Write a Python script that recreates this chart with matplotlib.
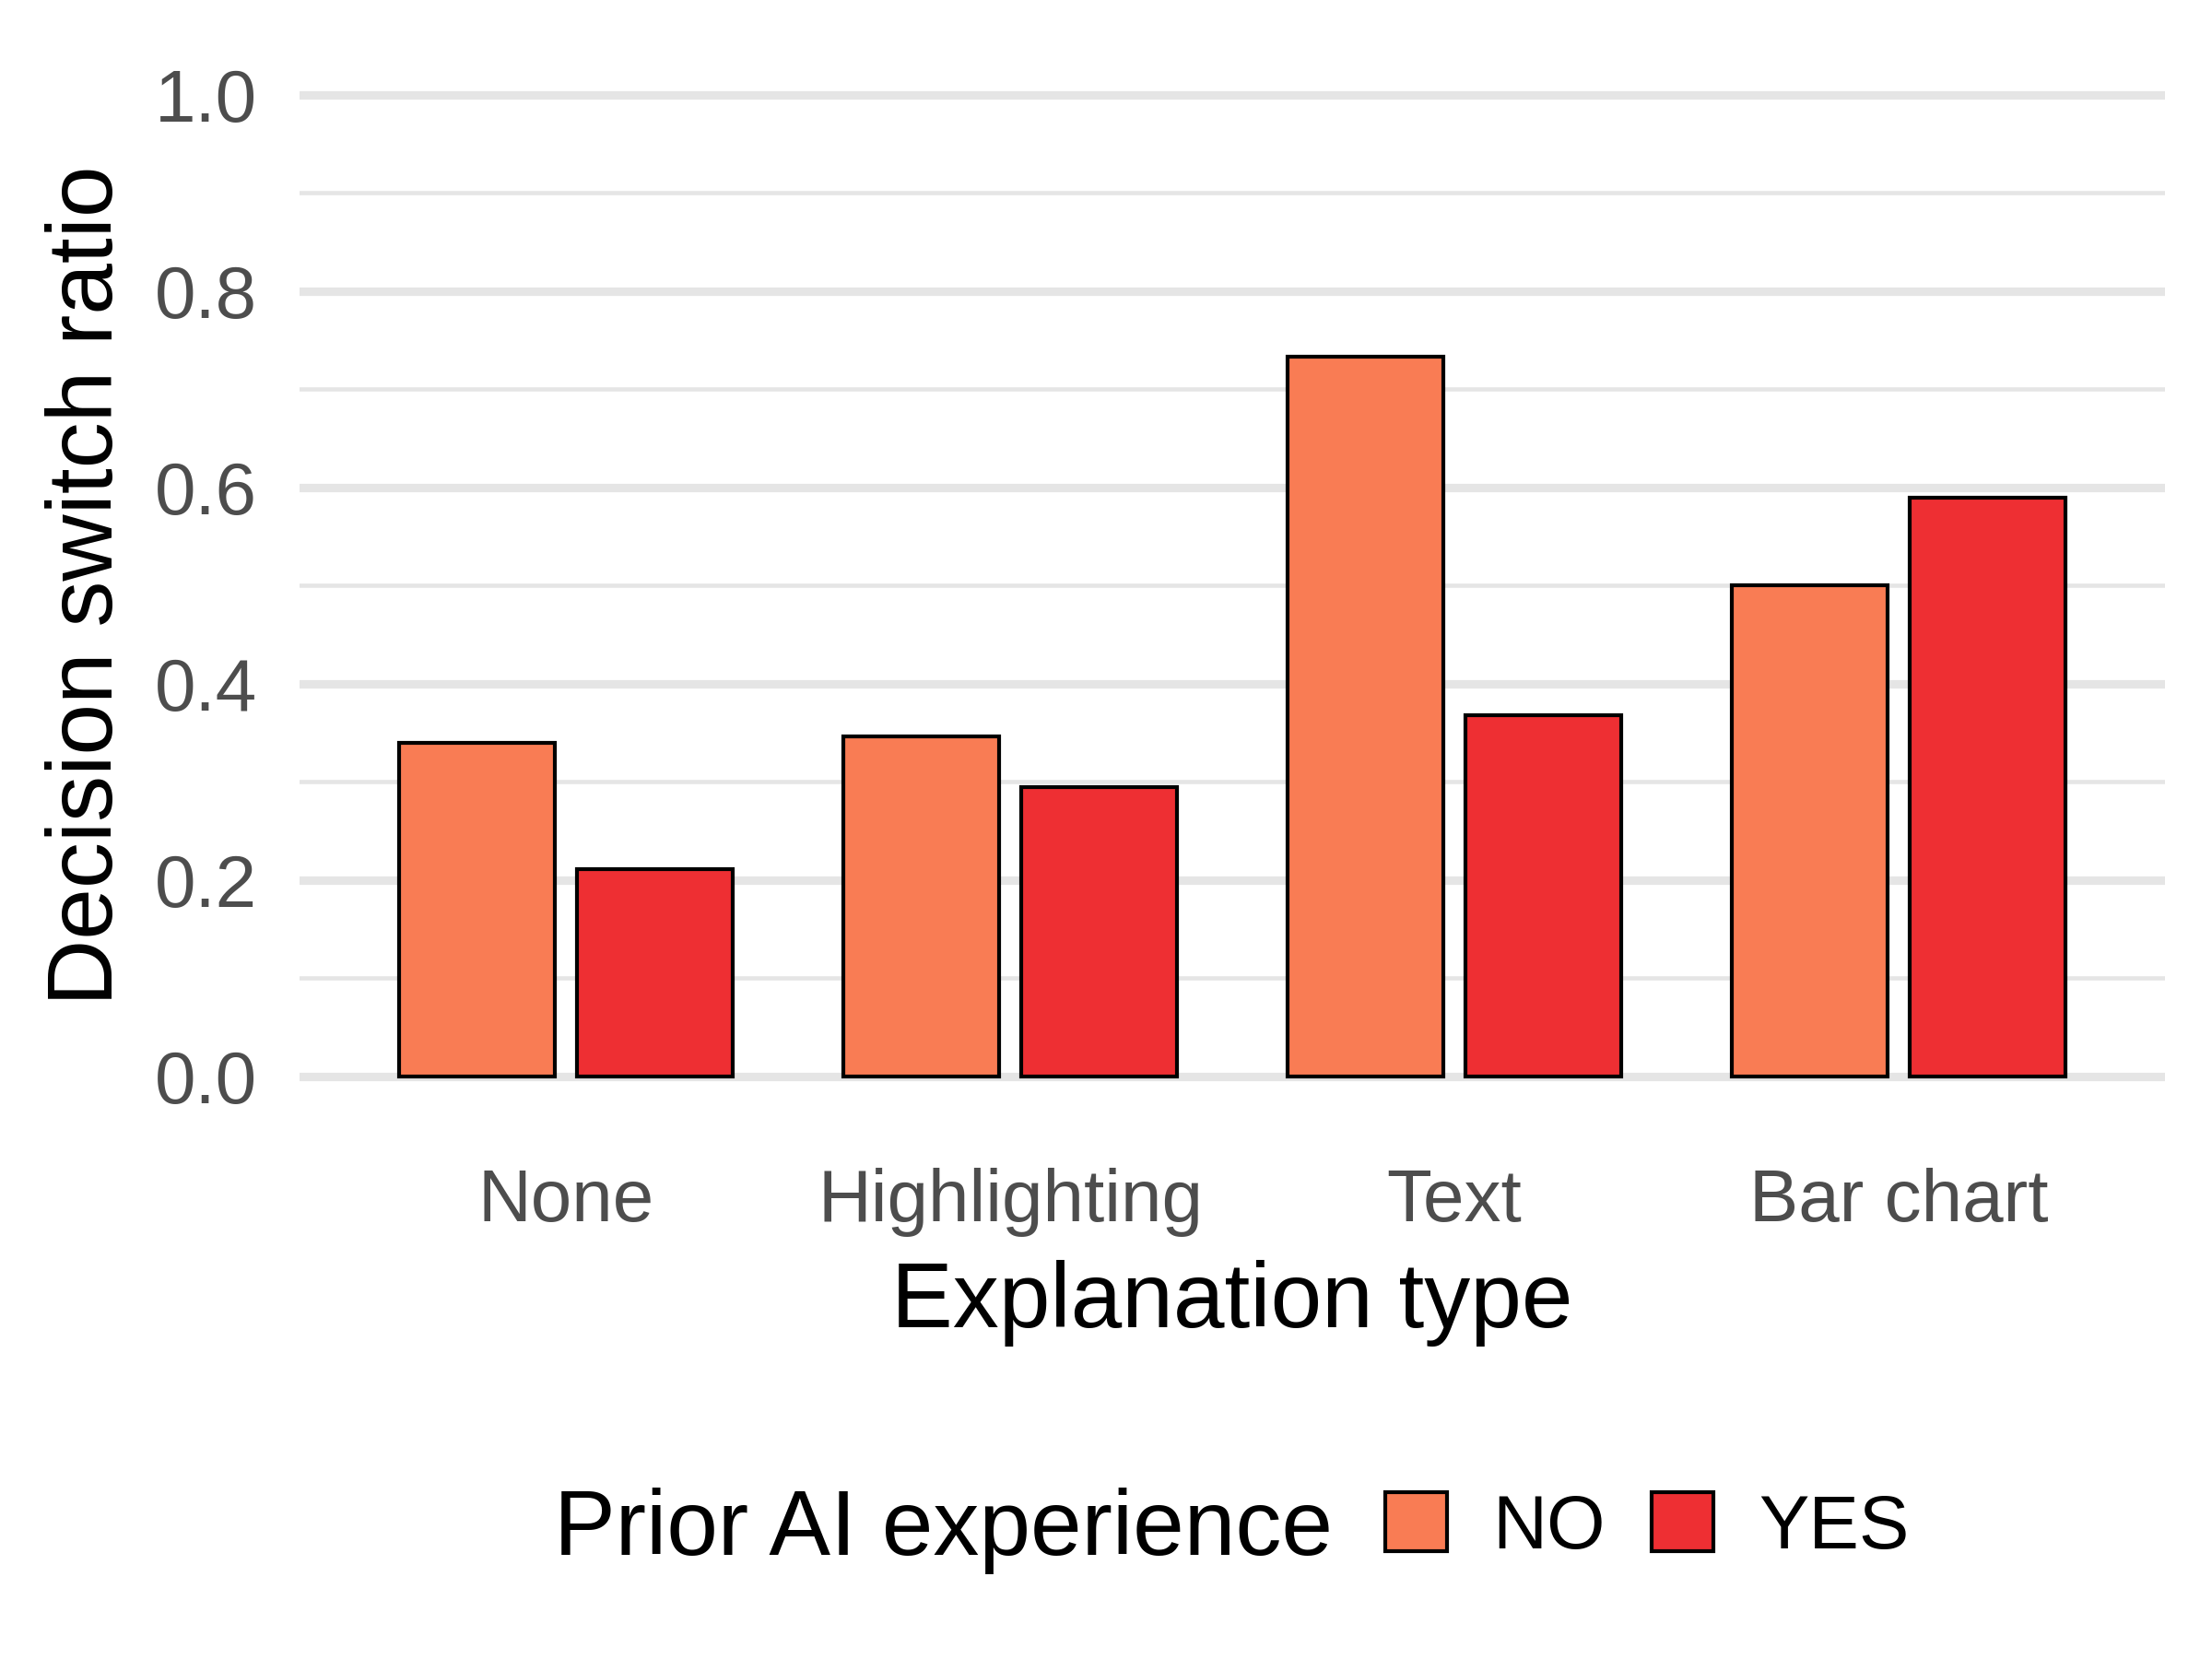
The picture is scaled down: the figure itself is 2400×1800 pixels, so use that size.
import matplotlib
matplotlib.use("Agg")
import matplotlib.pyplot as plt
import numpy as np
from matplotlib.patches import Patch

categories = ["None", "Highlighting", "Text", "Bar chart"]
groups = ["NO", "YES"]
values_no = [0.340, 0.346, 0.733, 0.500]
values_yes = [0.211, 0.295, 0.368, 0.589]
colors = {"NO": "#F97C54", "YES": "#EE2F33"}
y_ticks = [0.0, 0.2, 0.4, 0.6, 0.8, 1.0]
y_minor = [0.1, 0.3, 0.5, 0.7, 0.9]

plt.rcParams['font.family'] = ['Liberation Sans', 'DejaVu Sans']

fig = plt.figure(figsize=(8, 6), dpi=300)
W, H = 2400, 1800
left, right = 325 / W, 2349 / W
bottom, top = 1 - 1221 / H, 1 - 49.5 / H
ax = fig.add_axes([left, bottom, right - left, top - bottom])

x = np.arange(1, len(categories) + 1)
width = 0.35
off = 0.2
ax.bar(x - off, values_no, width, color=colors["NO"], edgecolor="black", linewidth=1.0, zorder=3)
ax.bar(x + off, values_yes, width, color=colors["YES"], edgecolor="black", linewidth=1.0, zorder=3)

ax.set_xlim(0.4, 4.6)
ax.set_ylim(-0.05, 1.05)
ax.set_yticks(y_ticks)
ax.set_yticklabels([f"{v:.1f}" for v in y_ticks])
ax.set_yticks(y_minor, minor=True)
ax.set_xticks(x)
ax.set_xticklabels(categories)

ax.grid(axis="y", which="major", color="#E5E5E5", linewidth=2.2, zorder=0)
ax.grid(axis="y", which="minor", color="#E5E5E5", linewidth=1.1, zorder=0)
ax.grid(axis="x", visible=False)
for s in ax.spines.values():
    s.set_visible(False)
ax.tick_params(axis="both", which="both", length=0, labelsize=19.2, labelcolor="#4D4D4D")
ax.tick_params(axis="x", pad=11)
ax.tick_params(axis="y", pad=11)

ax.set_xlabel("Explanation type", fontsize=24, labelpad=6)
ax.set_ylabel("Decision switch ratio", fontsize=24, labelpad=6)

fig.text(1446 / W, 1 - 1661 / H, "Prior AI experience", fontsize=24, ha="right", va="center")
handles = [Patch(facecolor=colors[g], edgecolor="black", linewidth=1.0) for g in groups]
fig.legend(handles, groups, loc="center left", bbox_to_anchor=(1503 / W, 1 - 1658 / H),
           ncol=2, frameon=False, fontsize=19.6, handlelength=0.82, handleheight=0.82,
           handletextpad=0.6, columnspacing=0.62, borderpad=0, borderaxespad=0)

fig.savefig("out.png", dpi=300)
